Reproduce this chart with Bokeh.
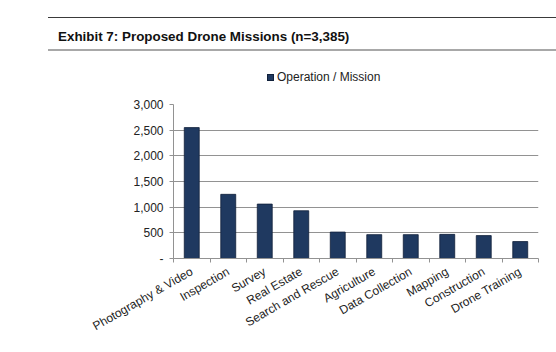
from bokeh.plotting import figure
from bokeh.models import ColumnDataSource, FixedTicker, Range1d, Div
from bokeh.layouts import column
from bokeh.embed import file_html
from bokeh.resources import INLINE
import math

categories = ["Photography & Video", "Inspection", "Survey", "Real Estate",
              "Search and Rescue", "Agriculture", "Data Collection", "Mapping",
              "Construction", "Drone Training"]
missions = [2550, 1250, 1060, 930, 515, 465, 465, 470, 446, 330]
y_ticks = [0, 500, 1000, 1500, 2000, 2500, 3000]
y_tick_labels = ["-", "500", "1,000", "1,500", "2,000", "2,500", "3,000"]
series_name = "Operation / Mission"
title_text = "Exhibit 7: Proposed Drone Missions (n=3,385)"

FONT = "Liberation Sans"
BAR = "#1F3960"
EDGE = "#10203A"
GRID = "#929292"

W, H = 556, 352
HEAD = 92                      # header height (title + rules + legend)
FL, FR, FT, FB = 173, 538, 104, 258   # frame position on the page

header = Div(
    text=(f'<div style="position:absolute;left:48px;top:17px;width:508px;height:34px;'
          f'border-top:1.5px solid #3A3A3A;border-bottom:2px solid #A8A8A8;">'
          f'<div style="position:absolute;left:10px;top:9px;font-family:\'{FONT}\';'
          f'font-weight:bold;font-size:13.4px;color:#111111;white-space:nowrap;">'
          f'{title_text}</div></div>'
          f'<div style="position:absolute;left:267px;top:74px;width:7px;height:7px;'
          f'background:{BAR};border:0.5px solid {EDGE};box-sizing:border-box;"></div>'
          f'<div style="position:absolute;left:277px;top:70px;font-family:\'{FONT}\';'
          f'font-size:12px;line-height:14px;color:#222222;white-space:nowrap;">'
          f'{series_name}</div>'),
    width=W, height=HEAD, margin=0)

n = len(categories)
xpos = [i + 0.5 for i in range(n)]
source = ColumnDataSource(dict(x=xpos, val=missions, cat=categories))

PH = H - HEAD
p = figure(width=W, height=PH, x_range=Range1d(0, n), y_range=Range1d(0, 3000),
           output_backend="svg", toolbar_location=None,
           min_border_left=FL, min_border_right=W - FR, min_border_top=FT - HEAD,
           min_border_bottom=H - FB, margin=0)
p.title = None
p.outline_line_color = None
p.background_fill_color = "white"
p.border_fill_color = "white"

r = p.vbar(x="x", top="val", width=0.41, source=source, fill_color=BAR,
           line_color=EDGE, line_width=0.8)

p.xgrid.grid_line_color = None
p.ygrid.grid_line_color = GRID
p.ygrid.grid_line_width = 1

p.yaxis.ticker = FixedTicker(ticks=y_ticks)
p.yaxis.major_label_overrides = dict(zip(y_ticks, y_tick_labels))
p.yaxis.minor_tick_line_color = None
p.yaxis.major_tick_in = 0
p.yaxis.major_tick_out = 4
p.yaxis.axis_line_color = GRID
p.yaxis.major_tick_line_color = GRID
p.yaxis.major_label_text_font = FONT
p.yaxis.major_label_text_font_size = "12px"
p.yaxis.major_label_text_color = "#222222"
p.yaxis.major_label_standoff = 6

p.xaxis.ticker = FixedTicker(ticks=xpos, minor_ticks=list(range(n + 1)))
p.xaxis.major_label_overrides = dict(zip(xpos, categories))
p.xaxis.axis_line_color = GRID
p.xaxis.major_tick_line_color = None
p.xaxis.minor_tick_line_color = GRID
p.xaxis.minor_tick_in = 0
p.xaxis.minor_tick_out = 4
p.xaxis.major_label_orientation = math.pi / 6
p.xaxis.major_label_text_font = FONT
p.xaxis.major_label_text_font_size = "12px"
p.xaxis.major_label_text_color = "#222222"
p.xaxis.major_label_standoff = 6

layout = column(header, p, spacing=0, margin=0)
open("out.html", "w").write(file_html(layout, INLINE))
